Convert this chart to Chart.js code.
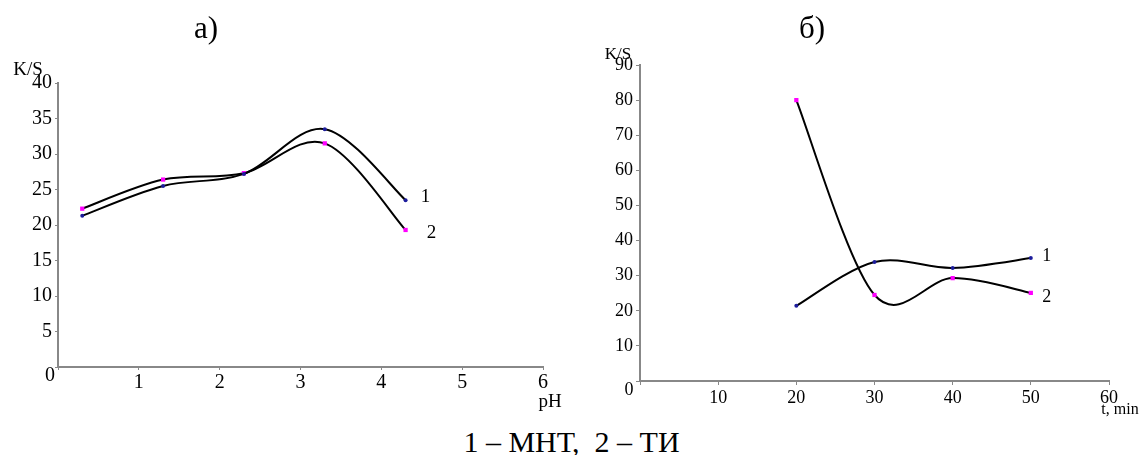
<!DOCTYPE html>
<html>
<head>
<meta charset="utf-8">
<script src="https://cdn.jsdelivr.net/npm/chart.js@4.4.1/dist/chart.umd.min.js"></script>
<style>
  html, body { margin: 0; padding: 0; background: #fff; }
  body { width: 1143px; height: 455px; position: relative; overflow: hidden; font-family: 'Liberation Serif', serif; }
  #chartA { position: absolute; left: 0; top: 0; }
  #chartB { position: absolute; left: 570px; top: 0; }
  #caption { position: absolute; left: 0; top: 425px; width: 1143px; text-align: center; font-size: 30px; line-height: 34px; color: #000; }
</style>
</head>
<body>
<canvas id="chartA" width="570" height="420"></canvas>
<canvas id="chartB" width="573" height="420"></canvas>
<div id="caption">1 – МНТ,&nbsp; 2 – ТИ</div>
<script>
// а) K/S vs pH
const phValues = [0.3, 1.3, 2.3, 3.3, 4.3];
const phMNT = [21.3, 25.5, 27.2, 33.5, 23.5];
const phTI = [22.3, 26.4, 27.3, 31.5, 19.3];

// б) K/S vs time, min
const timeValues = [20, 30, 40, 50];
const timeMNT = [21.4, 33.9, 32.2, 35.0];
const timeTI = [80, 24.5, 29.3, 25.1];

const seriesLabels = ['1', '2'];
const seriesNames = ['МНТ', 'ТИ'];

const FONT = "'Liberation Serif', 'Times New Roman', serif";

// spreadsheet-style smoothing: control points at 1/6 of (next - prev)
const smoothLines = {
  id: 'smoothLines',
  beforeDatasetDraw(chart, args) {
    const line = args.meta.dataset;
    const pts = args.meta.data;
    line.updateControlPoints(chart.chartArea, 'x');
    pts.forEach((p, i) => {
      const prev = pts[Math.max(i - 1, 0)];
      const next = pts[Math.min(i + 1, pts.length - 1)];
      const dx = (next.x - prev.x) / 6;
      const dy = (next.y - prev.y) / 6;
      p.cp1x = p.x - dx; p.cp1y = p.y - dy;
      p.cp2x = p.x + dx; p.cp2y = p.y + dy;
    });
    delete line._path;
  }
};

// extra text: titles, axis names, curve numbers at line ends
const extraText = {
  id: 'extraText',
  afterDraw(chart, args, opts) {
    const ctx = chart.ctx;
    ctx.save();
    ctx.fillStyle = '#000';
    ctx.textAlign = 'center';
    ctx.textBaseline = 'middle';
    (opts.items || []).forEach(it => {
      ctx.font = it.size + 'px ' + FONT;
      ctx.fillText(it.text, it.x, it.y);
    });
    (opts.ends || []).forEach((e, i) => {
      const meta = chart.getDatasetMeta(i);
      const last = meta.data[meta.data.length - 1];
      ctx.font = e.size + 'px ' + FONT;
      ctx.fillText(chart.data.datasets[i].label, last.x + e.dx, last.y + e.dy);
    });
    ctx.restore();
  }
};

function toPoints(xs, ys) {
  return xs.map((x, i) => ({ x: x, y: ys[i] }));
}

function makeDatasets(xs, ys1, ys2) {
  return [
    {
      label: seriesLabels[0],
      data: toPoints(xs, ys1),
      borderColor: '#000',
      borderWidth: 2,
      tension: 0.4,
      pointStyle: 'circle',
      pointRadius: 2,
      pointBackgroundColor: '#1c1c9c',
      pointBorderColor: '#1c1c9c',
      pointBorderWidth: 0
    },
    {
      label: seriesLabels[1],
      data: toPoints(xs, ys2),
      borderColor: '#000',
      borderWidth: 2,
      tension: 0.4,
      pointStyle: 'rect',
      pointRadius: 3,
      pointBackgroundColor: '#ff00ff',
      pointBorderColor: '#ff00ff',
      pointBorderWidth: 0
    }
  ];
}

function axis(min, max, step, size, tickLen, pad, fit) {
  return {
    type: 'linear',
    min: min,
    max: max,
    ticks: {
      stepSize: step,
      color: '#000',
      padding: pad,
      font: { family: FONT, size: size },
      callback: v => (v === 0 ? '' : v)
    },
    grid: { drawOnChartArea: false, drawTicks: true, tickLength: tickLen, color: '#888', lineWidth: 1 },
    border: { display: true, color: '#888', width: 2 },
    afterFit: fit
  };
}

new Chart(document.getElementById('chartA'), {
  type: 'line',
  data: { datasets: makeDatasets(phValues, phMNT, phTI) },
  options: {
    responsive: false,
    animation: false,
    clip: false,
    elements: { line: { fill: false } },
    layout: { padding: { left: 0, top: 83, right: 27, bottom: 0 } },
    scales: {
      x: axis(0, 6, 1, 20, 3, 1, s => { s.height = 53; }),
      y: axis(0, 40, 5, 20, 3, 3, s => { s.width = 58; })
    },
    plugins: {
      legend: { display: false },
      tooltip: { enabled: false },
      extraText: {
        items: [
          { text: 'а)', x: 206, y: 30, size: 31 },
          { text: 'K/S', x: 28, y: 70, size: 19 },
          { text: 'pH', x: 550, y: 402, size: 19 },
          { text: '0', x: 50, y: 376, size: 20 }
        ],
        ends: [
          { dx: 20, dy: -3, size: 19 },
          { dx: 26, dy: 3, size: 19 }
        ]
      }
    }
  },
  plugins: [smoothLines, extraText]
});

new Chart(document.getElementById('chartB'), {
  type: 'line',
  data: { datasets: makeDatasets(timeValues, timeMNT, timeTI) },
  options: {
    responsive: false,
    animation: false,
    clip: false,
    elements: { line: { fill: false } },
    layout: { padding: { left: 0, top: 65, right: 34, bottom: 0 } },
    scales: {
      x: axis(0, 60, 10, 18, 4, 2, s => { s.height = 39; }),
      y: axis(0, 90, 10, 18, 4, 3, s => { s.width = 70; })
    },
    plugins: {
      legend: { display: false },
      tooltip: { enabled: false },
      extraText: {
        items: [
          { text: 'б)', x: 242, y: 30, size: 31 },
          { text: 'K/S', x: 48, y: 55, size: 17 },
          { text: 't, min', x: 550, y: 410, size: 16 },
          { text: '0', x: 59, y: 390, size: 18 }
        ],
        ends: [
          { dx: 16, dy: -2, size: 18 },
          { dx: 16, dy: 4, size: 18 }
        ]
      }
    }
  },
  plugins: [smoothLines, extraText]
});
</script>
</body>
</html>
